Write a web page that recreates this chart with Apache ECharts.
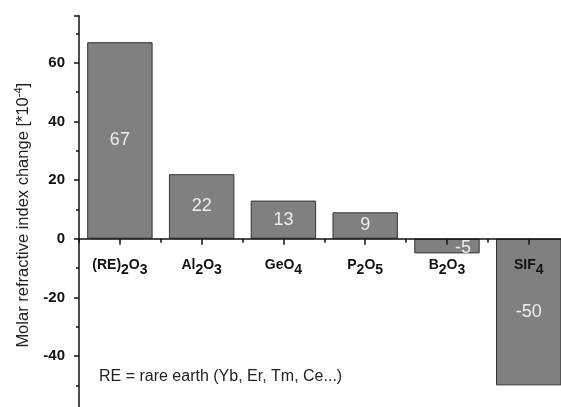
<!DOCTYPE html>
<html><head><meta charset="utf-8">
<script src="https://cdn.jsdelivr.net/npm/echarts@6/dist/echarts.min.js"></script>
<style>html,body{margin:0;padding:0;background:#fff}#c{width:561px;height:407px}</style>
</head><body><div id="c"></div>
<script>
const categories = ['(RE)2O3', 'Al2O3', 'GeO4', 'P2O5', 'B2O3', 'SIF4'];
const values = [67, 22, 13, 9, -5, -50];
const yAxisTitle = 'Molar refractive index change [*10';
const yAxisTitleSup = '-4';
const note = 'RE = rare earth (Yb, Er, Tm, Ce...)';

const FONT = '"Liberation Sans", Arial, sans-serif';
const Y_MIN = -60, Y_MAX = 76;
const GRID_TOP = 15.8, GRID_BOTTOM = -7.7, H = 407;
const plotH = H - GRID_TOP - GRID_BOTTOM;
const zeroFromTop = plotH * Y_MAX / (Y_MAX - Y_MIN);
const zeroFromBottom = plotH - zeroFromTop;

function richCat(s) {
  const parts = s.split(/(\d)/).filter(p => p !== '');
  return parts.map(p => /\d/.test(p) ? '{s|' + p + '}' : '{m|' + p + '}').join('');
}
const chart = echarts.init(document.getElementById('c'), null, {renderer: 'canvas'});
const barData = values.map((v, i) => {
  const d = {value: v};
  if (v === -5) d.label = {offset: [16, 1.5]};
  return d;
});
chart.setOption({
  animation: false,
  backgroundColor: '#fff',
  grid: {left: 79, right: -8.6, top: GRID_TOP, bottom: GRID_BOTTOM, containLabel: false, outerBoundsMode: 'none'},
  xAxis: [{
    type: 'category', data: categories, position: 'bottom', z: 10,
    offset: -zeroFromBottom,
    axisLine: {onZero: false, lineStyle: {color: '#111', width: 1.5}},
    axisTick: {show: true, alignWithLabel: true, length: 6, lineStyle: {color: '#111', width: 1.5}},
    axisLabel: {
      show: true, margin: 14, interval: 0, hideOverlap: false,
      formatter: function (v) { return richCat(v); },
      rich: {
        m: {fontFamily: FONT, fontWeight: 'bold', fontSize: 14, color: '#111'},
        s: {fontFamily: FONT, fontWeight: 'bold', fontSize: 14, color: '#111', padding: [10, 0, 0, 0]}
      }
    },
    splitLine: {show: false}
  }, {
    type: 'category', data: categories, position: 'bottom', z: 10,
    offset: -zeroFromBottom,
    axisLine: {show: false, onZero: false},
    axisTick: {show: true, alignWithLabel: false, length: 4, lineStyle: {color: '#111', width: 1.5}},
    axisLabel: {show: false},
    splitLine: {show: false}
  }],
  yAxis: {
    type: 'value', min: Y_MIN, max: Y_MAX, interval: 20,
    name: '{t|' + yAxisTitle + '}{u|' + yAxisTitleSup + '}{t|]}',
    nameLocation: 'middle', nameRotate: 90, nameGap: 45,
    nameTextStyle: {
      rich: {
        t: {fontFamily: FONT, fontSize: 16.5, color: '#222'},
        u: {fontFamily: FONT, fontSize: 11, color: '#222', padding: [0, 0, 10, 0]}
      }
    },
    axisLine: {show: true, onZero: false, lineStyle: {color: '#111', width: 1.5}},
    axisTick: {show: true, length: 5, lineStyle: {color: '#111', width: 1.5}},
    minorTick: {show: true, splitNumber: 2, length: 3, lineStyle: {color: '#111', width: 1.5}},
    axisLabel: {showMaxLabel: false, margin: 14, fontFamily: FONT, fontWeight: 'bold', fontSize: 15, color: '#111'},
    splitLine: {show: false}
  },
  series: [{
    type: 'bar', data: barData, barWidth: '80%', xAxisIndex: 0,
    itemStyle: {color: '#808080', borderColor: '#333', borderWidth: 1},
    label: {show: true, position: 'inside', fontFamily: FONT, fontSize: 18, color: '#eee'}
  }],
  graphic: [{
    type: 'text', left: 99, top: 369,
    style: {text: note, fontFamily: FONT, fontSize: 16, fill: '#222'}
  }]
});
</script></body></html>
